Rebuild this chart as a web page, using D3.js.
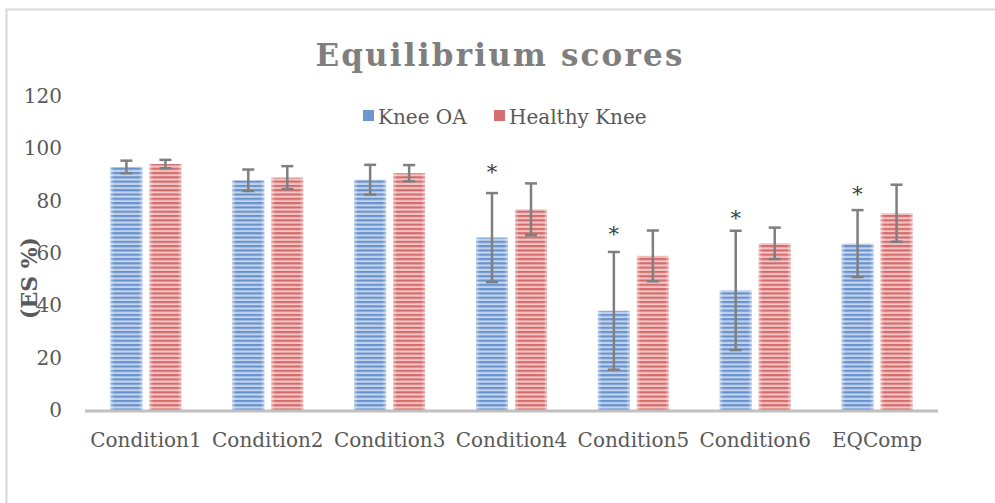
<!DOCTYPE html>
<html>
<head>
<meta charset="utf-8">
<script src="https://cdn.jsdelivr.net/npm/d3@7"></script>
<style>
  html, body { margin: 0; padding: 0; background: #fff; }
  svg { display: block; }
  text { font-family: "DejaVu Serif", "Liberation Serif", serif; }
</style>
</head>
<body>
<svg id="chart" width="995" height="503"></svg>
<script>
// ---- data ----
const categories = ["Condition1", "Condition2", "Condition3", "Condition4", "Condition5", "Condition6", "EQComp"];
const seriesNames = ["Knee OA", "Healthy Knee"];
const kneeOA      = [92.9, 87.8, 88.0, 65.9, 37.9, 45.7, 63.6];
const kneeOAErr   = [2.4, 4.1, 5.7, 17.0, 22.5, 22.8, 12.8];
const healthy     = [94.0, 88.8, 90.5, 76.7, 58.9, 63.7, 75.2];
const healthyErr  = [1.6, 4.4, 3.1, 9.9, 9.7, 6.0, 10.9];
// significance markers (on Knee OA bars), value level of the asterisk centre
const starFlags   = [false, false, false, true, true, true, true];
const starLevel   = [0, 0, 0, 93.3, 69.6, 75.7, 84.8];
const yTicks      = [0, 20, 40, 60, 80, 100, 120];

// ---- layout ----
const svg = d3.select("#chart");
const plot = { left: 85, right: 938, top: 96, bottom: 410 };

const y = d3.scaleLinear().domain([0, 120]).range([plot.bottom, plot.top]);
const x0 = d3.scaleBand().domain(categories).range([plot.left, plot.right]).padding(0);
const gw = 71;
const x1 = d3.scaleBand().domain(seriesNames)
  .range([x0.bandwidth() / 2 - gw / 2, x0.bandwidth() / 2 + gw / 2])
  .paddingInner(7 / 39).paddingOuter(0);

// ---- frame ----
svg.append("rect").attr("x", 6.5).attr("y", 9.5).attr("width", 1100).attr("height", 700)
  .attr("fill", "none").attr("stroke", "#d9d9d9").attr("stroke-width", 2);

// ---- patterns ----
const defs = svg.append("defs");
function stripe(id, dark, light) {
  const p = defs.append("pattern").attr("id", id).attr("patternUnits", "userSpaceOnUse")
    .attr("width", 8).attr("height", 4.3);
  p.append("rect").attr("width", 8).attr("height", 4.3).attr("fill", light);
  p.append("rect").attr("y", 0).attr("width", 8).attr("height", 2.1).attr("fill", dark);
}
stripe("pBlue", "#6691cc", "#c3d3ec");
stripe("pRed", "#d46a6a", "#f0c4c4");
const edge = defs.append("linearGradient").attr("id", "edgeGrad").attr("x1", "0").attr("x2", "1");
edge.append("stop").attr("offset", "0").attr("stop-color", "#fff").attr("stop-opacity", 0.45);
edge.append("stop").attr("offset", "0.12").attr("stop-color", "#fff").attr("stop-opacity", 0);
edge.append("stop").attr("offset", "0.88").attr("stop-color", "#fff").attr("stop-opacity", 0);
edge.append("stop").attr("offset", "1").attr("stop-color", "#fff").attr("stop-opacity", 0.45);

const fills = { "Knee OA": "url(#pBlue)", "Healthy Knee": "url(#pRed)" };
const legendFills = { "Knee OA": "#6f97cf", "Healthy Knee": "#d66f6f" };

// ---- title ----
svg.append("text").attr("x", 500).attr("y", 66).attr("text-anchor", "middle")
  .attr("font-size", 31).attr("font-weight", "bold").attr("fill", "#7f7f7f")
  .attr("letter-spacing", 2.2).text("Equilibrium scores");

// ---- y axis labels ----
const yAxis = d3.axisLeft(y).tickValues(yTicks).tickSize(0).tickPadding(0);
const gy = svg.append("g").attr("transform", "translate(62,0)").call(yAxis);
gy.select(".domain").remove();
gy.selectAll("text").attr("font-size", 20).attr("fill", "#595959")
  .attr("font-family", "DejaVu Serif, serif");

svg.append("text").attr("transform", "translate(37,278) rotate(-90)")
  .attr("text-anchor", "middle").attr("font-size", 22).attr("font-weight", "bold")
  .attr("fill", "#595959").text("(ES %)");

// ---- bars ----
const rows = categories.map((c, i) => ({
  cat: c, i,
  vals: [
    { s: "Knee OA", v: kneeOA[i], e: kneeOAErr[i] },
    { s: "Healthy Knee", v: healthy[i], e: healthyErr[i] }
  ]
}));

const groups = svg.append("g").selectAll("g").data(rows).join("g")
  .attr("transform", d => `translate(${x0(d.cat)},0)`);

groups.selectAll("rect.bar").data(d => d.vals).join("rect").attr("class", "bar")
  .attr("x", d => x1(d.s)).attr("width", x1.bandwidth())
  .attr("y", d => y(d.v)).attr("height", d => y(0) - y(d.v))
  .attr("fill", d => fills[d.s]);
groups.selectAll("rect.edge").data(d => d.vals).join("rect").attr("class", "edge")
  .attr("x", d => x1(d.s)).attr("width", x1.bandwidth())
  .attr("y", d => y(d.v)).attr("height", d => y(0) - y(d.v))
  .attr("fill", "url(#edgeGrad)");

// ---- x axis line ----
svg.append("line").attr("x1", plot.left).attr("x2", plot.right)
  .attr("y1", y(0) + 1).attr("y2", y(0) + 1)
  .attr("stroke", "#c0c0c0").attr("stroke-width", 3);

// ---- error bars ----
const eb = groups.selectAll("g.err").data(d => d.vals).join("g").attr("class", "err")
  .attr("stroke", "#7f7f7f").attr("stroke-width", 2.5);
const cx = d => x1(d.s) + x1.bandwidth() / 2;
eb.append("line").attr("x1", cx).attr("x2", cx)
  .attr("y1", d => y(d.v + d.e)).attr("y2", d => y(d.v - d.e));
eb.append("line").attr("x1", d => cx(d) - 6).attr("x2", d => cx(d) + 6)
  .attr("y1", d => y(d.v + d.e)).attr("y2", d => y(d.v + d.e));
eb.append("line").attr("x1", d => cx(d) - 6).attr("x2", d => cx(d) + 6)
  .attr("y1", d => y(d.v - d.e)).attr("y2", d => y(d.v - d.e));

// ---- significance stars ----
groups.filter(d => starFlags[d.i]).append("text")
  .attr("x", x1("Knee OA") + x1.bandwidth() / 2)
  .attr("y", d => y(starLevel[d.i]) + 13)
  .attr("text-anchor", "middle").attr("font-size", 21).attr("fill", "#404040")
  .text("*");

// ---- category labels ----
const xAxis = d3.axisBottom(x0).tickSize(0).tickPadding(0);
const gx = svg.append("g").attr("transform", `translate(0,${y(0)})`).call(xAxis);
gx.select(".domain").remove();
gx.selectAll("text").attr("font-size", 20).attr("fill", "#595959")
  .attr("font-family", "DejaVu Serif, serif").attr("dy", "37px");

// ---- legend ----
const legendX = [363, 494];
const lg = svg.append("g").selectAll("g").data(seriesNames).join("g")
  .attr("transform", (d, i) => `translate(${legendX[i]},110)`);
lg.append("rect").attr("width", 11).attr("height", 11).attr("fill", d => legendFills[d]);
lg.append("text").attr("x", 15).attr("y", 13.5).attr("font-size", 20).attr("fill", "#595959")
  .text(d => d);
</script>
</body>
</html>
